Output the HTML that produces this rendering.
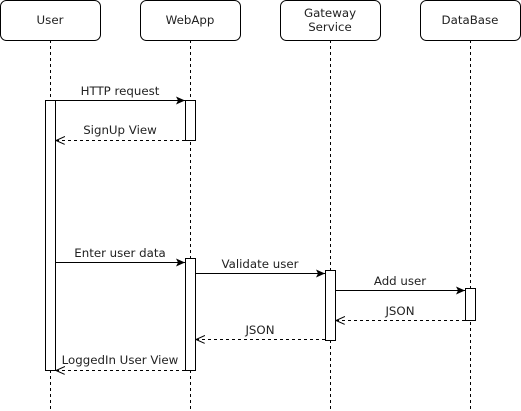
<!DOCTYPE html>
<html><head><style>html,body{margin:0;padding:0;background:#fff}svg{display:block}text{font-family:"DejaVu Sans","Liberation Sans",sans-serif;font-size:11.8px;fill:#222;text-anchor:middle}</style></head>
<body>
<svg width="521" height="411" viewBox="0 0 521 411" xmlns="http://www.w3.org/2000/svg">
<defs>
<marker id="f" markerWidth="10" markerHeight="10" refX="9" refY="4" orient="auto" markerUnits="userSpaceOnUse"><path d="M0,0 L9,4 L0,8 L2,4 Z" fill="#000"/></marker>
<marker id="o" markerWidth="10" markerHeight="10" refX="9" refY="4" orient="auto" markerUnits="userSpaceOnUse"><path d="M0,0 L9,4 L0,8" fill="none" stroke="#000"/></marker>
</defs>
<g stroke="#000" stroke-width="1" fill="#fff">
<line x1="50.5" y1="40" x2="50.5" y2="411" stroke-dasharray="3,3"/>
<line x1="190.5" y1="40" x2="190.5" y2="411" stroke-dasharray="3,3"/>
<line x1="330.5" y1="40" x2="330.5" y2="411" stroke-dasharray="3,3"/>
<line x1="470.5" y1="40" x2="470.5" y2="411" stroke-dasharray="3,3"/>
<rect x="0.5" y="0.5" width="100" height="40" rx="6"/>
<rect x="140.5" y="0.5" width="100" height="40" rx="6"/>
<rect x="280.5" y="0.5" width="100" height="40" rx="6"/>
<rect x="420.5" y="0.5" width="100" height="40" rx="6"/>
<rect x="45.5" y="100.5" width="10" height="270"/>
<rect x="185.5" y="100.5" width="10" height="40"/>
<rect x="185.5" y="258.5" width="10" height="112"/>
<rect x="325.5" y="270.5" width="10" height="70"/>
<rect x="465.5" y="288.5" width="10" height="32"/>
<line x1="56" y1="100.5" x2="185" y2="100.5" marker-end="url(#f)"/>
<line x1="185" y1="140.5" x2="56" y2="140.5" stroke-dasharray="3,3" marker-end="url(#o)"/>
<line x1="56" y1="262.5" x2="185" y2="262.5" marker-end="url(#f)"/>
<line x1="196" y1="273.5" x2="325" y2="273.5" marker-end="url(#f)"/>
<line x1="336" y1="290.5" x2="465" y2="290.5" marker-end="url(#f)"/>
<line x1="465" y1="320.5" x2="336" y2="320.5" stroke-dasharray="3,3" marker-end="url(#o)"/>
<line x1="325" y1="339.5" x2="196" y2="339.5" stroke-dasharray="3,3" marker-end="url(#o)"/>
<line x1="185" y1="370.5" x2="56" y2="370.5" stroke-dasharray="3,3" marker-end="url(#o)"/>
</g>
<text x="50" y="24">User</text>
<text x="190" y="24">WebApp</text>
<text x="330" y="17">Gateway</text>
<text x="330" y="31">Service</text>
<text x="470" y="24">DataBase</text>
<text x="120" y="95">HTTP request</text>
<text x="120" y="134">SignUp View</text>
<text x="120" y="257">Enter user data</text>
<text x="260" y="268">Validate user</text>
<text x="400" y="285">Add user</text>
<text x="400" y="315">JSON</text>
<text x="260" y="334">JSON</text>
<text x="120" y="364">LoggedIn User View</text>
</svg>
</body></html>
